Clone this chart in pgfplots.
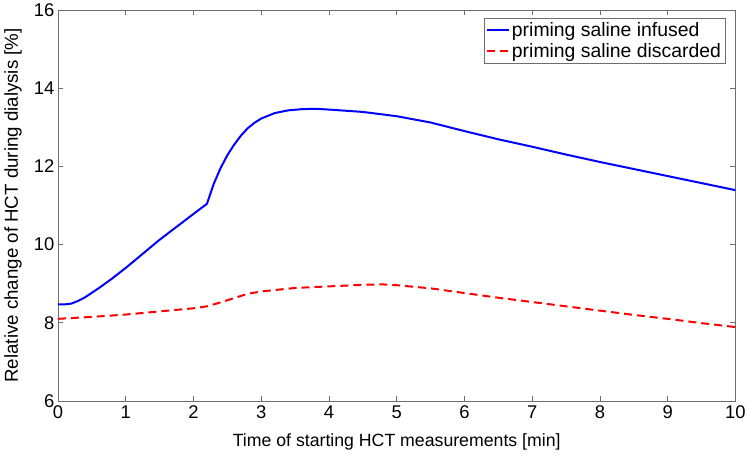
\documentclass[border=0pt]{standalone}
\usepackage{pgfplots}
\pgfplotsset{compat=1.18}
\usepackage{fontspec}
\setmainfont{Liberation Sans}
\definecolor{axgray}{RGB}{110,110,110}
\begin{document}
\begin{tikzpicture}
\begin{axis}[
  scale only axis,
  width=679bp, height=392bp,
  xmin=0, xmax=10, ymin=6, ymax=16,
  xtick={0,1,...,10}, ytick={6,8,...,16},
  tick align=inside,
  major tick length=5bp,
  axis line style={axgray, line width=0.6bp},
  every tick/.style={axgray, line width=0.6bp},
  tick label style={font=\fontsize{18.5}{22}\selectfont, black},
  /pgf/number format/assume math mode=true,
  xticklabel style={yshift=-1bp},
  yticklabel style={xshift=0bp},
  xlabel={Time of starting HCT measurements [min]},
  ylabel={Relative change of HCT during dialysis [\%]},
  xlabel style={font=\fontsize{17.8}{21}\selectfont, at={(axis description cs:0.5,-0.105)}, anchor=center},
  ylabel style={font=\fontsize{18.8}{22}\selectfont, at={(axis description cs:-0.066,0.5)}, anchor=center, rotate=0},
  legend style={at={(axis description cs:0.985,0.9796)}, anchor=north east,
    font=\fontsize{19.5}{23}\selectfont, draw=axgray, line width=0.6bp,
    inner sep=2bp, row sep=2bp, cells={anchor=west}},
  legend image code/.code={\draw[#1] (0bp,0bp) -- (22bp,0bp);},
]
\addplot[blue, line width=2bp] coordinates {
(0,8.47) (0.1,8.47) (0.2,8.49) (0.3,8.56) (0.4,8.65) (0.6,8.88) (0.8,9.13)
(1.0,9.40) (1.5,10.12) (2.0,10.78) (2.2,11.04) (2.3,11.55) (2.4,11.95)
(2.5,12.28) (2.6,12.55) (2.7,12.78) (2.8,12.97) (2.9,13.11) (3.0,13.22)
(3.2,13.36) (3.4,13.43) (3.6,13.46) (3.8,13.47) (4.0,13.45) (4.5,13.39)
(5.0,13.28) (5.5,13.12) (6.0,12.90) (6.5,12.69) (7.0,12.50) (7.5,12.30)
(8.0,12.11) (8.5,11.93) (9.0,11.75) (9.5,11.57) (10.0,11.39)
};
\addlegendentry{priming saline infused}
\addplot[red, line width=2bp, dash pattern=on 8bp off 5bp] coordinates {
(0,8.10) (0.5,8.15) (1.0,8.21) (1.5,8.29) (2.0,8.37) (2.2,8.42) (2.4,8.52)
(2.6,8.63) (2.8,8.74) (3.0,8.80) (3.5,8.89) (4.0,8.93) (4.5,8.97) (4.8,8.98)
(5.0,8.96) (5.5,8.88) (6.0,8.76) (6.5,8.64) (7.0,8.53) (7.5,8.42) (8.0,8.31)
(8.5,8.20) (9.0,8.10) (9.5,7.99) (10.0,7.89)
};
\addlegendentry{priming saline discarded}
\end{axis}
\path[use as bounding box] (-58bp,-58bp) rectangle (691bp,399bp);
\end{tikzpicture}
\end{document}
